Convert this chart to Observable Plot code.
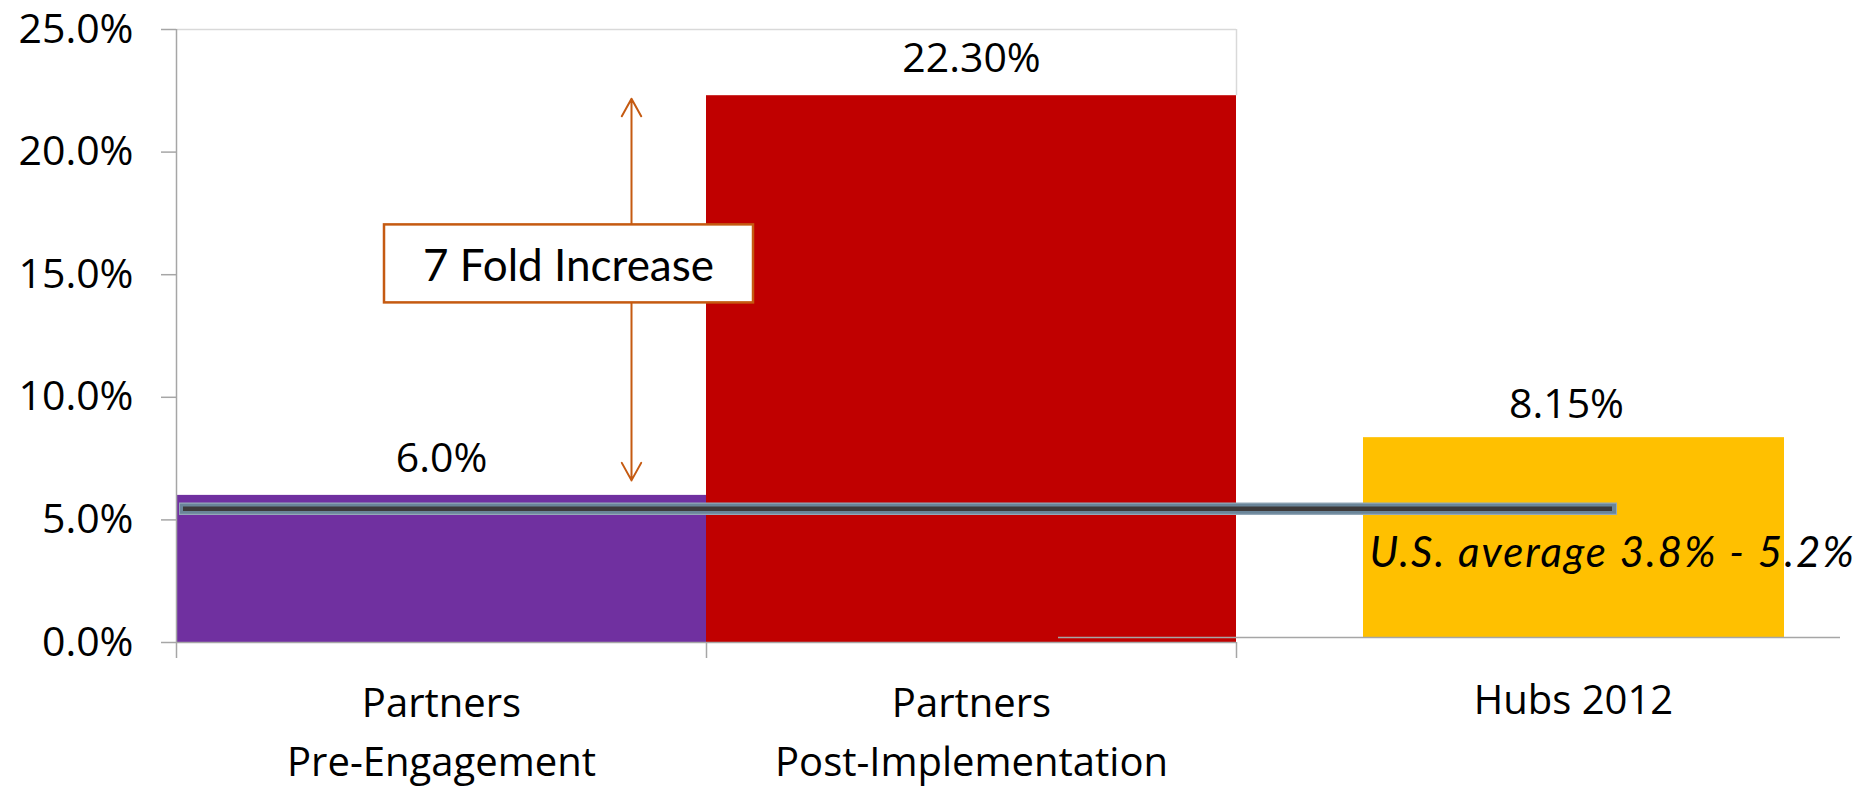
<!DOCTYPE html>
<html><head><meta charset="utf-8">
<script src="https://cdn.jsdelivr.net/npm/d3@7"></script>
<script src="https://cdn.jsdelivr.net/npm/@observablehq/plot@0.6"></script>
<style>html,body{margin:0;padding:0;background:#fff;overflow:hidden}</style>
</head><body><div id="chart"></div>
<script>
// ---- data ----
const categories = ["Partners\nPre-Engagement", "Partners\nPost-Implementation", "Hubs 2012"];
const values = [6.0, 22.30, 8.15];
const valueLabels = ["6.0%", "22.30%", "8.15%"];
const barColors = ["#7030A0", "#C00000", "#FFC000"];
const yTicks = [0, 5, 10, 15, 20, 25];
const usAverage = 5.45;
const usAverageLabel = "U.S. average 3.8% - 5.2%";
const increaseLabel = "7 Fold Increase";
const increaseLabelY = 15.4;

// ---- layout ----
const W = 1862, H = 786, mL = 176, mR = 96, mT = 29, mB = 144;
const bw = (W - mL - mR) / categories.length;
const axisGray = "#a6a6a6", borderGray = "#d9d9d9", accent = "#C55A11";

const rows = categories.map((c, i) => ({cat: c, value: values[i], label: valueLabels[i], color: barColors[i]}));
const partners = rows.slice(0, 2);
const hubs = rows.slice(2);
const arrowMid = (values[0] + values[1]) / 2;

const chart = Plot.plot({
  width: W, height: H,
  marginLeft: mL, marginRight: mR, marginTop: mT, marginBottom: mB,
  style: {fontFamily: "Open Sans", color: "#000", background: "#fff", overflow: "visible"},
  x: {type: "band", domain: categories, padding: 0, axis: null},
  y: {domain: [0, 25], axis: null},
  color: {type: "identity"},
  marks: [
    // bars
    Plot.barY(partners, {x: "cat", y: "value", fill: "color"}),
    Plot.barY(hubs, {x: "cat", y: "value", fill: "color", insetLeft: 127, insetRight: -18, dy: -5}),
    // plot-area border remnants
    Plot.ruleY([25], {insetRight: bw, stroke: borderGray, strokeWidth: 1.5}),
    Plot.ruleX([categories[1]], {dx: bw / 2, y1: values[1], y2: 25, stroke: borderGray, strokeWidth: 1.5}),
    // baselines
    Plot.ruleY([0], {insetRight: bw, stroke: axisGray, strokeWidth: 1.5}),
    Plot.ruleY([0], {dy: -5, insetLeft: 882, insetRight: -74, stroke: axisGray, strokeWidth: 1.5}),
    // y axis line and category boundary ticks
    Plot.ruleX([categories[0]], {dx: -bw / 2, y1: 0, y2: 25, stroke: axisGray, strokeWidth: 1.5}),
    Plot.ruleX(categories, {dx: -bw / 2, y1: 0, y2: 0, dy: 8, insetTop: -8, insetBottom: -8, stroke: axisGray, strokeWidth: 1.5}),
    Plot.axisY({ticks: yTicks, tickFormat: d => d.toFixed(1) + "%", tickSize: 15, tickPadding: 28,
      fontSize: 41, fontFamily: "Open Sans", stroke: axisGray, strokeWidth: 1.5, fill: "#000", label: null}),
    // US average line
    Plot.ruleY([usAverage], {insetLeft: 3, insetRight: 149, stroke: "#93a8b8", strokeWidth: 12.5}),
    Plot.ruleY([usAverage], {insetLeft: 4, insetRight: 150, stroke: "#6a8599", strokeWidth: 10}),
    Plot.ruleY([usAverage], {insetLeft: 7, insetRight: 154, stroke: "#3d3a3a", strokeWidth: 4.5}),
    // fold-increase arrows
    Plot.arrow([0], {x1: () => categories[0], x2: () => categories[0], y1: () => arrowMid, y2: () => values[1],
      dx: 190, insetEnd: 3, stroke: accent, strokeWidth: 2, headLength: 15, headAngle: 58}),
    Plot.arrow([0], {x1: () => categories[0], x2: () => categories[0], y1: () => arrowMid, y2: () => values[0],
      dx: 190, insetEnd: 15, stroke: accent, strokeWidth: 2, headLength: 15, headAngle: 58}),
    // annotation box
    Plot.barY([0], {x: () => categories[0], y1: () => increaseLabelY, y2: () => increaseLabelY,
      insetLeft: 208, insetRight: -47, insetTop: -40, insetBottom: -38, fill: "#fff", stroke: accent, strokeWidth: 2.5}),
    Plot.text([increaseLabel], {x: () => categories[0], y: () => increaseLabelY, text: d => d,
      dx: 127, dy: 2, fontFamily: "Lato", fontSize: 44, fill: "#000"}),
    // value labels
    Plot.text(partners, {x: "cat", y: "value", text: "label", dy: -37, fontSize: 41, fill: "#000"}),
    Plot.text(hubs, {x: "cat", y: "value", text: "label", dy: -38, dx: 65, fontSize: 41, fill: "#000"}),
    // category labels
    Plot.text(partners, {x: "cat", text: "cat", frameAnchor: "bottom", lineAnchor: "top", dy: 33, lineHeight: 1.475, fontSize: 40, fill: "#000"}),
    Plot.text(hubs, {x: "cat", text: "cat", frameAnchor: "bottom", lineAnchor: "top", dy: 42.6, dx: 72, fontSize: 40, fill: "#000"}),
    // US average label
    Plot.text([usAverageLabel], {x: () => categories[2], y: () => usAverage, text: d => d, textAnchor: "start",
      dx: -132, dy: 45, fontStyle: "italic", fontFamily: "Lato", fontSize: 42, fill: "#000"})
  ]
});
d3.select(chart).selectAll("text").filter(function() { return this.textContent === usAverageLabel; })
  .style("letter-spacing", "2px");
document.getElementById("chart").appendChild(chart);
</script>
</body></html>
